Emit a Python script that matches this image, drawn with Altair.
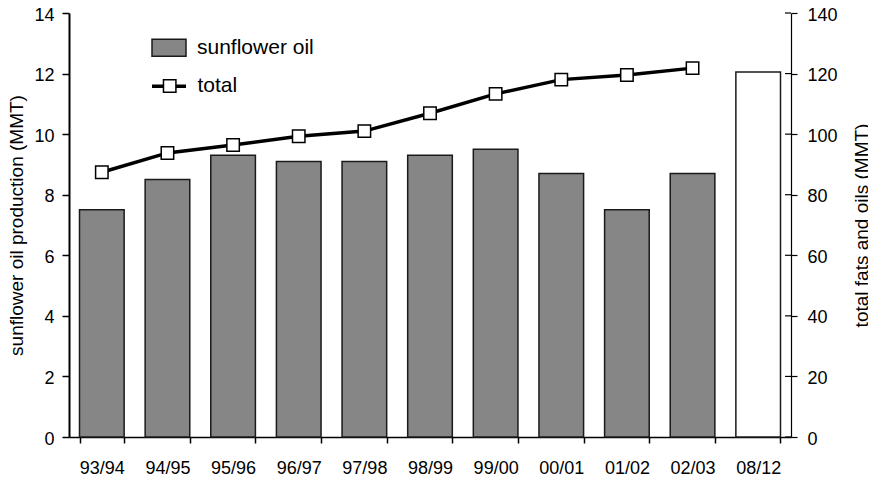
import altair as alt
import pandas as pd

# ---- data ----
cats = ["93/94", "94/95", "95/96", "96/97", "97/98", "98/99", "99/00",
        "00/01", "01/02", "02/03", "08/12"]
oil = [7.5, 8.5, 9.3, 9.1, 9.1, 9.3, 9.5, 8.7, 7.5, 8.7, 12.05]
bar_kind = ["sunflower oil"] * 10 + ["outlook"]
total_cats = cats[:10]
total = [87.4, 93.8, 96.4, 99.3, 101.0, 106.9, 113.3, 118.0, 119.5, 121.8]
left_ticks = [0, 2, 4, 6, 8, 10, 12, 14]
right_ticks = [0, 20, 40, 60, 80, 100, 120, 140]

FONT = "Liberation Sans"
W, H = 722, 424

bars_df = pd.DataFrame({"cat": cats, "oil": oil, "kind": bar_kind})
line_df = pd.DataFrame({"cat": total_cats, "total": total,
                        "series": ["total"] * len(total_cats),
                        "pt": ["total_pt"] * len(total_cats)})
rt_df = pd.DataFrame({"total": right_ticks})

xscale = alt.Scale(domain=cats, paddingInner=0.32, paddingOuter=0.16)
yright = alt.Scale(domain=[0, 140], nice=False)

xaxis = alt.Axis(tickBand="extent", labelAngle=0, tickSize=6,
                 labelPadding=16, labelFontSize=18, domainWidth=1.5,
                 tickWidth=1.5, title=None)
raxis = alt.Axis(orient="right", values=right_ticks, tickSize=6,
                 labelPadding=10, labelFontSize=18, labelOffset=2,
                 title="total fats and oils (MMT)", titleAngle=270,
                 titleBaseline="top",
                 titleFontSize=19, titleFontWeight="normal",
                 titlePadding=15, domainWidth=1.2, tickWidth=1.2)

bars = alt.Chart(bars_df).mark_bar(stroke="#1a1a1a", strokeWidth=1.5).encode(
    x=alt.X("cat:N", scale=xscale, axis=xaxis),
    y=alt.Y("oil:Q", scale=alt.Scale(domain=[0, 14], nice=False),
            axis=alt.Axis(orient="left", values=left_ticks, tickSize=7,
                          labelPadding=8, labelFontSize=18, labelOffset=2,
                          title="sunflower oil production (MMT)",
                          titleFontSize=19, titleFontWeight="normal",
                          titlePadding=7, domainWidth=2, tickWidth=1.5)),
    color=alt.Color("kind:N",
                    scale=alt.Scale(domain=["sunflower oil", "outlook"],
                                    range=["#868686", "#ffffff"]),
                    legend=alt.Legend(values=["sunflower oil"], title=None,
                                      orient="none", legendX=82, legendY=16.75,
                                      symbolType="M-1,-0.5H1V0.5H-1Z",
                                      symbolSize=1156, symbolStrokeWidth=1.5,
                                      symbolStrokeColor="#1a1a1a",
                                      labelFontSize=21, labelOffset=10,
                                      labelFont=FONT, labelColor="black")),
)

line = alt.Chart(line_df).mark_line(color="black", strokeWidth=3.5).encode(
    x=alt.X("cat:N", scale=xscale, axis=xaxis),
    y=alt.Y("total:Q", scale=yright, axis=raxis),
    stroke=alt.Stroke("series:N",
                      scale=alt.Scale(domain=["total"], range=["black"]),
                      legend=alt.Legend(title=None, orient="none",
                                        legendX=81, legendY=54.25,
                                        symbolType="stroke", symbolSize=1156,
                                        symbolStrokeWidth=3.5,
                                        labelFontSize=21, labelOffset=9.5,
                                        labelFont=FONT, labelColor="black")),
)

points = alt.Chart(line_df).mark_point(shape="square", filled=False,
                                       fill="white", stroke="black",
                                       strokeWidth=1.5, size=155,
                                       opacity=1).encode(
    x=alt.X("cat:N", scale=xscale, axis=xaxis),
    y=alt.Y("total:Q", scale=yright, axis=raxis),
    shape=alt.Shape("pt:N",
                    scale=alt.Scale(domain=["total_pt"], range=["square"]),
                    legend=alt.Legend(title=None, orient="none",
                                      legendX=93.7, legendY=66,
                                      symbolSize=155, symbolStrokeWidth=1.5,
                                      labelExpr="''")),
)

inner_ticks = alt.Chart(rt_df).mark_rule(color="black", strokeWidth=1.2).encode(
    y=alt.Y("total:Q", scale=yright, axis=raxis),
    x=alt.value(W - 6),
    x2=alt.value(W),
)

right_layer = alt.layer(line, inner_ticks, points)

chart = alt.layer(bars, right_layer).resolve_scale(
    y="independent", color="independent", stroke="independent",
    shape="independent"
).properties(
    width=W, height=H,
    autosize=alt.AutoSizeParams(type="none"),
    padding={"left": 61, "top": 5, "right": 77, "bottom": 43},
).configure_view(stroke=None).configure_axis(
    labelFont=FONT, titleFont=FONT, labelColor="black", titleColor="black",
    domainColor="black", tickColor="black", grid=False
).configure_legend(labelFont=FONT)

chart.save("out.html", embed_options={"renderer": "svg", "actions": False})
